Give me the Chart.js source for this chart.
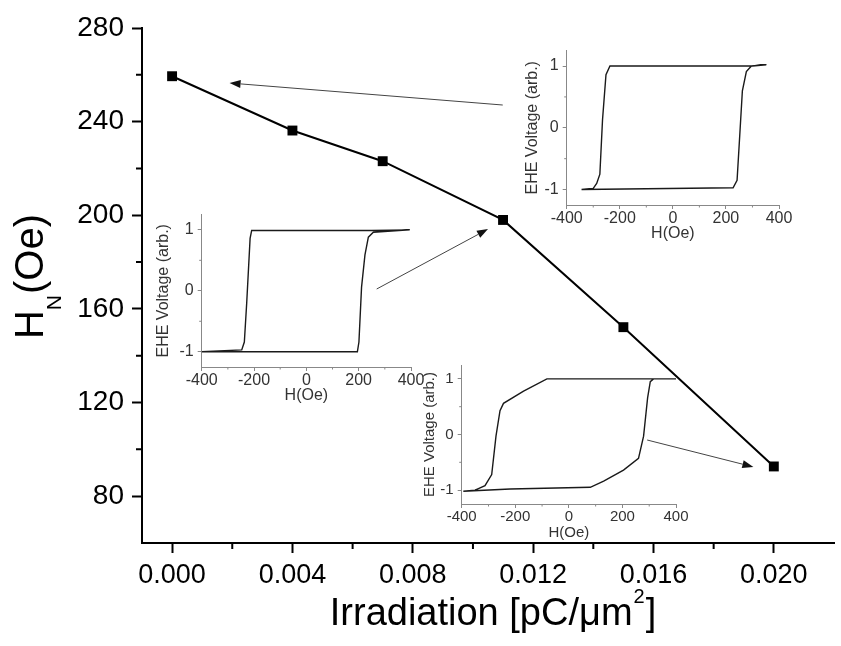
<!DOCTYPE html>
<html>
<head>
<meta charset="utf-8">
<script src="https://cdn.jsdelivr.net/npm/chart.js@4.4.1/dist/chart.umd.min.js"></script>
<style>
  html, body { margin: 0; padding: 0; background: #fff; }
  #wrap { position: relative; width: 841px; height: 646px; overflow: hidden; }
  #wrap canvas { position: absolute; }
</style>
</head>
<body>
<div id="wrap">
  <canvas id="mainChart" width="841" height="646" style="left:0;top:0"></canvas>
  <canvas id="insetA"></canvas>
  <canvas id="insetB"></canvas>
  <canvas id="insetC"></canvas>
</div>
<script>
// main curve: nucleation field vs irradiation dose
const irradiation = [0, 0.004, 0.007, 0.011, 0.015, 0.020];
const nucleationField = [259.4, 236.2, 223.1, 198.0, 152.2, 92.7];
const xTicks = [0, 0.004, 0.008, 0.012, 0.016, 0.020];
const xMinor = [0.002, 0.006, 0.010, 0.014, 0.018];
const yTicks = [80, 120, 160, 200, 240, 280];
const yMinor = [100, 140, 180, 220, 260];

// arrows (tail -> head) in main-chart data units
const arrowFrom = [[0.01099, 247.1], [0.0068, 168.5], [0.01579, 104.0]];
const arrowTo = [[0.00191, 256.5], [0.0105, 194.1], [0.01932, 92.5]];

// inset loops, H in Oe and EHE voltage (arb.)
const loopA_H = [352, 300, -237, -252, -265, -275, -287, -300, -344, 227, 242, 252, 262, 277, 296, 352];
const loopA_V = [1.02, 1.0, 1.0, 0.86, 0.13, -0.75, -0.9, -0.98, -1.0, -0.97, -0.85, -0.13, 0.6, 0.91, 1.0, 1.02];
const loopB_H = [395, 250, -209, -215, -228, -237, -247, -400, 195, 201, 211, 224, 237, 256, 395];
const loopB_V = [1.0, 0.99, 0.99, 0.86, -0.2, -0.84, -0.97, -1.0, -1.0, -0.84, 0.06, 0.59, 0.88, 0.96, 1.0];
const loopC_H = [400, -82, -169, -244, -257, -272, -288, -313, -350, -394, -219, 80, 130, 204, 260, 279, 294, 304, 316, 400];
const loopC_V = [1.0, 1.0, 0.78, 0.56, 0.43, -0.03, -0.72, -0.92, -1.0, -1.02, -0.98, -0.95, -0.84, -0.64, -0.43, -0.03, 0.66, 0.95, 1.0, 1.0];
const insetXTicks = [-400, -200, 0, 200, 400];
const insetXMinor = [-300, -100, 100, 300];
const insetYTicks = [-1, 0, 1];
const insetYMinor = [-0.5, 0.5];

const FONT = '"Liberation Sans", Arial, sans-serif';

// short minor ticks drawn outside the axes
const minorTickPlugin = {
    id: 'minorTicks',
    afterDraw(chart, args, opts) {
        const { ctx, chartArea, scales } = chart;
        ctx.save();
        ctx.strokeStyle = opts.color;
        ctx.lineWidth = opts.width;
        ctx.beginPath();
        (opts.x || []).forEach(v => {
            const px = scales.x.getPixelForValue(v);
            ctx.moveTo(px, chartArea.bottom);
            ctx.lineTo(px, chartArea.bottom + opts.length);
        });
        (opts.y || []).forEach(v => {
            const py = scales.y.getPixelForValue(v);
            ctx.moveTo(chartArea.left, py);
            ctx.lineTo(chartArea.left - opts.length, py);
        });
        ctx.stroke();
        ctx.restore();
    }
};

// arrows + axis titles with sub/superscript on the main chart
const annotationPlugin = {
    id: 'annotations',
    afterDatasetsDraw(chart) {
        const { ctx, scales } = chart;
        ctx.save();
        arrowFrom.forEach((from, i) => {
            const x0 = scales.x.getPixelForValue(from[0]);
            const y0 = scales.y.getPixelForValue(from[1]);
            const x1 = scales.x.getPixelForValue(arrowTo[i][0]);
            const y1 = scales.y.getPixelForValue(arrowTo[i][1]);
            const ang = Math.atan2(y1 - y0, x1 - x0);
            const headLen = 11, headW = 4;
            ctx.strokeStyle = '#444';
            ctx.lineWidth = 1;
            ctx.beginPath();
            ctx.moveTo(x0, y0);
            ctx.lineTo(x1 - Math.cos(ang) * headLen, y1 - Math.sin(ang) * headLen);
            ctx.stroke();
            ctx.fillStyle = '#111';
            ctx.beginPath();
            ctx.moveTo(x1, y1);
            ctx.lineTo(x1 - Math.cos(ang) * headLen - Math.sin(ang) * headW, y1 - Math.sin(ang) * headLen + Math.cos(ang) * headW);
            ctx.lineTo(x1 - Math.cos(ang) * headLen + Math.sin(ang) * headW, y1 - Math.sin(ang) * headLen - Math.cos(ang) * headW);
            ctx.closePath();
            ctx.fill();
        });
        ctx.restore();
    },
    afterDraw(chart) {
        const { ctx, chartArea } = chart;
        ctx.save();
        ctx.fillStyle = '#000';
        ctx.textBaseline = 'alphabetic';
        ctx.textAlign = 'left';
        // x title
        const big = '38px ' + FONT, sup = '20px ' + FONT;
        ctx.font = big;
        const t1 = 'Irradiation [pC/\u03bcm';
        const w1 = ctx.measureText(t1).width;
        const w3 = ctx.measureText(']').width;
        ctx.font = sup;
        const w2 = ctx.measureText('2').width;
        let x = (chartArea.left + chartArea.right) / 2 + 4 - (w1 + w2 + w3) / 2;
        const by = chartArea.bottom + 82;
        ctx.font = big;
        ctx.fillText(t1, x, by);
        ctx.font = sup;
        ctx.fillText('2', x + w1 + 1, by - 22);
        ctx.font = big;
        ctx.fillText(']', x + w1 + w2 + 2, by);
        // y title
        ctx.translate(chartArea.left - 99, 0);
        ctx.rotate(-Math.PI / 2);
        const yBig = '40px ' + FONT, ySub = '21px ' + FONT;
        ctx.font = yBig;
        const hW = ctx.measureText('H').width;
        const oeW = ctx.measureText('(Oe)').width;
        ctx.font = ySub;
        const nW = ctx.measureText('N').width;
        let s = -(277 + (hW + nW + oeW) / 2);
        ctx.font = yBig;
        ctx.fillText('H', s, 0);
        ctx.font = ySub;
        ctx.fillText('N', s + hW, 18);
        ctx.font = yBig;
        ctx.fillText('(Oe)', s + hW + nW + 1, 0);
        ctx.restore();
    }
};

new Chart(document.getElementById('mainChart'), {
    type: 'scatter',
    data: {
        datasets: [{
            data: irradiation.map((v, i) => ({ x: v, y: nucleationField[i] })),
            showLine: true,
            borderColor: '#000',
            borderWidth: 2,
            pointStyle: 'rect',
            pointRadius: 7,
            pointBackgroundColor: '#000',
            pointBorderColor: '#000',
            pointBorderWidth: 0,
        }],
    },
    options: {
        responsive: false,
        animation: false,
        events: [],
        layout: { padding: { left: 0, top: 28, right: 3, bottom: 0 } },
        scales: {
            x: {
                type: 'linear', min: -0.001, max: 0.022,
                afterBuildTicks: s => { s.ticks = xTicks.map(v => ({ value: v })); },
                afterFit: s => { s.height = 103; },
                border: { color: '#000', width: 2 },
                grid: { drawOnChartArea: false, tickLength: 10, tickWidth: 2, tickColor: '#000' },
                ticks: { color: '#000', font: { family: FONT, size: 27 }, padding: 6, maxRotation: 0, autoSkip: false,
                    callback: v => v.toFixed(3) },
            },
            y: {
                type: 'linear', min: 60, max: 280,
                afterBuildTicks: s => { s.ticks = yTicks.map(v => ({ value: v })); },
                afterFit: s => { s.width = 142; },
                border: { color: '#000', width: 2 },
                grid: { drawOnChartArea: false, tickLength: 10, tickWidth: 2, tickColor: '#000' },
                ticks: { color: '#000', font: { family: FONT, size: 28 }, padding: 8 },
            },
        },
        plugins: {
            legend: { display: false },
            tooltip: { enabled: false },
            minorTicks: { x: xMinor, y: yMinor, length: 6, width: 2, color: '#000' },
        },
    },
    plugins: [minorTickPlugin, annotationPlugin],
});

// inset panels: position is given by the plot box in page pixels
const insets = [
    { id: 'insetA', H: loopA_H, V: loopA_V, box: [566.7, 45, 779.3, 205], font: 16, titleGap: 34 },
    { id: 'insetB', H: loopB_H, V: loopB_V, box: [201.7, 208.5, 411, 366], font: 16, titleGap: 38 },
    { id: 'insetC', H: loopC_H, V: loopC_V, box: [461.7, 359.6, 675.7, 503.8], font: 15, titleGap: 32 },
];

insets.forEach(inset => {
    const [l, t, r, b] = inset.box;
    const yW = inset.titleGap + 4 + 0.6 * inset.font;
    const xH = 40, padT = 8, padR = 26;
    const canvas = document.getElementById(inset.id);
    const left = Math.round(l - yW), top = Math.round(t - padT);
    canvas.style.left = left + 'px';
    canvas.style.top = top + 'px';
    canvas.width = Math.round(r - l + yW + padR);
    canvas.height = Math.round(b - t + padT + xH);
    const tickFont = { family: FONT, size: inset.font };
    new Chart(canvas, {
        type: 'scatter',
        data: {
            datasets: [{
                data: inset.H.map((h, i) => ({ x: h, y: inset.V[i] })),
                showLine: true,
                borderColor: '#1a1a1a',
                borderWidth: 1.4,
                pointRadius: 0,
                tension: 0,
            }],
        },
        options: {
            responsive: false,
            animation: false,
            events: [],
            layout: { padding: { left: (l - yW) - left, top: t - top, right: padR, bottom: 0 } },
            scales: {
                x: {
                    type: 'linear', min: -400, max: 400,
                    afterBuildTicks: s => { s.ticks = insetXTicks.map(v => ({ value: v })); },
                    afterFit: s => { s.height = xH; },
                    border: { color: '#888', width: 1 },
                    grid: { drawOnChartArea: false, tickLength: 4, tickColor: '#888' },
                    ticks: { color: '#333', font: tickFont, padding: 0, maxRotation: 0, autoSkip: false },
                    title: { display: true, text: 'H(Oe)', color: '#333', font: tickFont, padding: { top: 0, bottom: 2 } },
                },
                y: {
                    type: 'linear', min: -1.25, max: 1.25,
                    afterBuildTicks: s => { s.ticks = insetYTicks.map(v => ({ value: v })); },
                    afterFit: s => { s.width = yW; },
                    border: { color: '#888', width: 1 },
                    grid: { drawOnChartArea: false, tickLength: 4, tickColor: '#888' },
                    ticks: { color: '#333', font: tickFont, padding: 4 },
                    title: { display: true, text: 'EHE Voltage (arb.)', color: '#333', font: tickFont, padding: { top: 4, bottom: 0 } },
                },
            },
            plugins: {
                legend: { display: false },
                tooltip: { enabled: false },
                minorTicks: { x: insetXMinor, y: insetYMinor, length: 2.5, width: 1, color: '#888' },
            },
        },
        plugins: [minorTickPlugin],
    });
});
</script>
</body>
</html>
